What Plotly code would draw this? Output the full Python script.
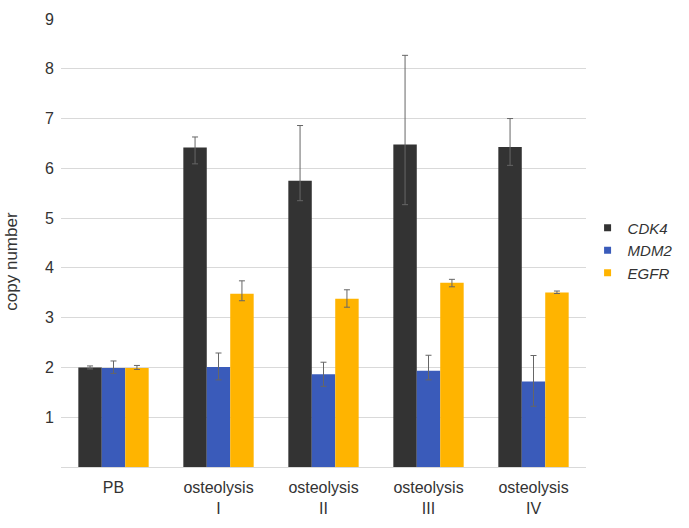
import plotly.graph_objects as go

categories = ["PB", "osteolysis<br>I", "osteolysis<br>II", "osteolysis<br>III", "osteolysis<br>IV"]
series_names = ["CDK4", "MDM2", "EGFR"]

cdk4 = [2.00, 6.42, 5.75, 6.48, 6.43]
cdk4_plus = [0.03, 0.21, 1.11, 1.79, 0.57]
cdk4_minus = [0.03, 0.33, 0.40, 1.21, 0.37]

mdm2 = [1.99, 2.01, 1.865, 1.935, 1.72]
mdm2_plus = [0.14, 0.28, 0.24, 0.31, 0.52]
mdm2_minus = [0.11, 0.26, 0.245, 0.185, 0.50]

egfr = [1.99, 3.48, 3.38, 3.70, 3.505]
egfr_plus = [0.05, 0.26, 0.18, 0.07, 0.03]
egfr_minus = [0.03, 0.14, 0.17, 0.08, 0.02]

colors = ["#333333", "#3A5BBA", "#FFB400"]
y_ticks = [1, 2, 3, 4, 5, 6, 7, 8, 9]

values = [cdk4, mdm2, egfr]
plus = [cdk4_plus, mdm2_plus, egfr_plus]
minus = [cdk4_minus, mdm2_minus, egfr_minus]

FONT = "Liberation Sans, Arial, Helvetica, sans-serif"
TXT = "#333333"

W, H = 689, 528
ML, MR, MT, MB = 61, 87, 11, 49

fig = go.Figure()
for name, vals, p, m, c in zip(series_names, values, plus, minus, colors):
    fig.add_trace(go.Bar(
        x=categories, y=vals, name=name, marker_color=c, marker_line_width=0,
        showlegend=False,
        error_y=dict(type="data", symmetric=False, array=p, arrayminus=m,
                     color="#666666", thickness=1, width=3),
    ))
for name, c in zip(series_names, colors):
    fig.add_trace(go.Scatter(
        x=[None], y=[None], mode="markers", name="<i>" + name + "</i>",
        marker=dict(symbol="square", size=7, color=c),
    ))

fig.update_layout(
    width=W, height=H,
    margin=dict(l=ML, r=MR, t=MT, b=MB),
    paper_bgcolor="white", plot_bgcolor="white",
    barmode="group", bargap=0.33, bargroupgap=0,
    font=dict(family=FONT, color=TXT, size=16),
    legend=dict(x=1.003, xanchor="left", y=0.483, yanchor="middle",
                font=dict(size=15, color=TXT), bgcolor="rgba(0,0,0,0)",
                itemclick=False),
    xaxis=dict(showline=True, linecolor="#D9D9D9", linewidth=1,
               showgrid=False, ticks="outside", ticklen=6,
               tickcolor="rgba(0,0,0,0)", tickfont=dict(size=16, color=TXT)),
    yaxis=dict(range=[0, 9], tickvals=y_ticks, showgrid=True,
               gridcolor="#D9D9D9", gridwidth=1, zeroline=False,
               showline=False, ticks="outside", ticklen=3,
               tickcolor="rgba(0,0,0,0)", tickfont=dict(size=16, color=TXT)),
    annotations=[dict(text="copy number", textangle=-90,
                      x=(10 - ML) / (W - ML - MR), xref="paper",
                      y=(H - MB - 264) / (H - MT - MB), yref="paper",
                      xanchor="center", yanchor="middle", showarrow=False,
                      font=dict(size=17, color=TXT))],
)

fig.write_html("out.html")
